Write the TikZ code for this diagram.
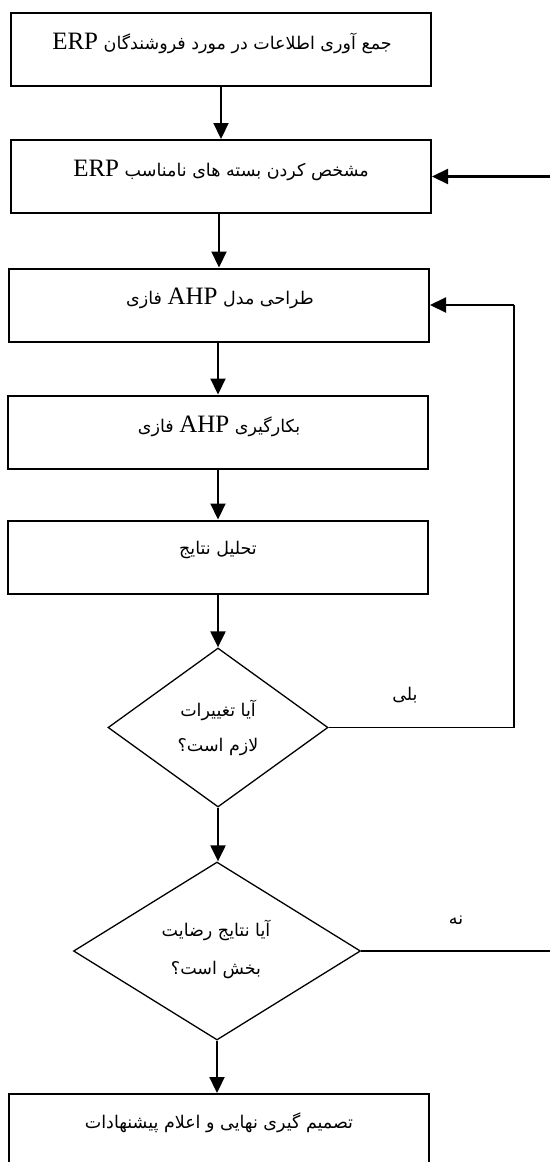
\documentclass[tikz,border=0pt]{standalone}
\usepackage{fontspec}
\setmainfont{Liberation Serif}
\newfontfamily\fa[Script=Arabic]{DejaVu Sans}
\TeXXeTstate=1
\usetikzlibrary{arrows.meta,shapes.geometric}
\newcommand{\lat}[1]{\beginL{\rmfamily\fontsize{25}{28}\selectfont #1}\endL{}}
\begin{document}
\begin{tikzpicture}[x=1pt,y=-1pt,
  box/.style={draw, line width=2pt, minimum width=420pt, minimum height=73pt, inner sep=0pt},
  dec/.style={draw, diamond, line width=1.3pt, inner sep=0pt},
  txt/.style={font=\fa\fontsize{17.5}{21}\selectfont, inner sep=0pt, align=center},
  arr/.style={line width=2.2pt, -{Triangle[width=15pt,length=16pt]}},
  thin/.style={line width=1.3pt},
  mid/.style={line width=1.8pt}]
\useasboundingbox (0,0) rectangle (550,1162);
\clip (0,0) rectangle (550,1162);
% boxes
\node[box] (b1) at (221,49.5) {};
\node[box] (b2) at (221,176.5) {};
\node[box] (b3) at (219,305) {};
\node[box] (b4) at (218,432) {};
\node[box] (b5) at (218,557) {};
\node[dec, minimum width=220pt, minimum height=159pt] (d1) at (218,727.5) {};
\node[dec, minimum width=287pt, minimum height=178pt] (d2) at (217,951) {};
\node[box] (b6) at (219,1130.5) {};
% texts
\node[txt] (t1) at (222,43) {\beginR جمع آوری اطلاعات در مورد فروشندگان \lat{ERP}\endR};
\node[txt] (t2) at (221,170) {\beginR مشخص کردن بسته های نامناسب \lat{ERP}\endR};
\node[txt] (t3) at (220,298) {\beginR طراحی مدل \lat{AHP} فازی\endR};
\node[txt] (t4) at (219,426) {\beginR بکارگیری \lat{AHP} فازی\endR};
\node[txt] (t5) at (218,550) {\beginR تحلیل نتایج\endR};
\node[txt] (t6) at (218,727.5) {\beginR آیا تغییرات\endR\\[14pt]\beginR لازم است؟\endR};
\node[txt] (t7) at (216,949) {\beginR آیا نتایج رضایت\endR\\[17pt]\beginR بخش است؟\endR};
\node[txt] (t8) at (219,1123) {\beginR تصمیم گیری نهایی و اعلام پیشنهادات\endR};
\node[txt] (yes) at (405,695) {\beginR بلی\endR};
\node[txt] (no) at (456,920) {\beginR نه\endR};
% coordinates
\coordinate (in2) at (550,176.5);
\coordinate (c1) at (514,727.5);
\coordinate (c2) at (514,305);
\coordinate (out2) at (550,951);
% connectors
\draw[arr] (b1.south) -- (b2.north);
\draw[arr] (in2) -- (b2.east);
\draw[arr] (b2.south -| b3.north) -- (b3.north);
\draw[arr] (b3.south -| b4.north) -- (b4.north);
\draw[arr] (b4.south) -- (b5.north);
\draw[arr] (b5.south) -- (d1.north);
\draw[arr] (d1.south) -- (d2.north -| d1.south);
\draw[arr] (d2.south) -- (b6.north -| d2.south);
\draw[thin] (d1.east) -- (c1);
\draw[mid] (c1) -- (c2);
\draw[arr] (c2) -- (b3.east);
\draw[thin] (d2.east) -- (out2);
\end{tikzpicture}
\end{document}
